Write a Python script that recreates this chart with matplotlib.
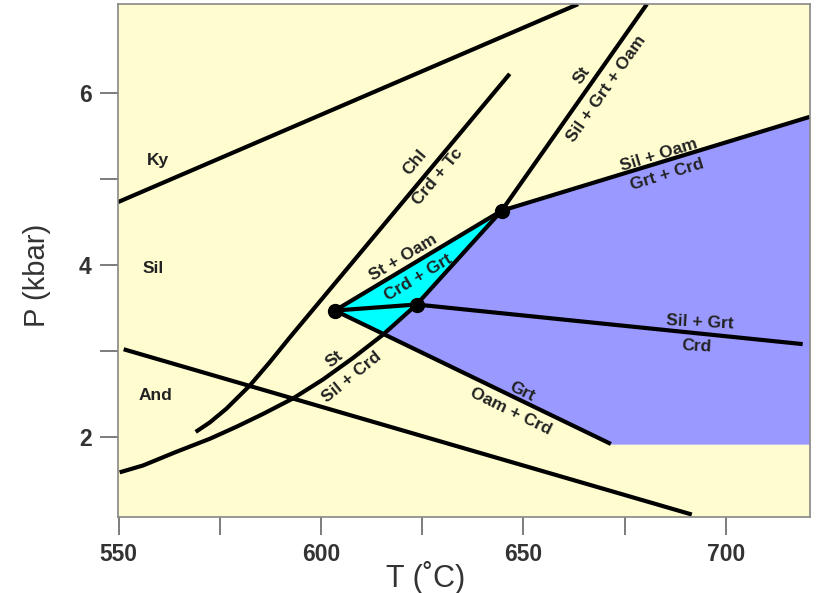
import numpy as np
import matplotlib.pyplot as plt

plt.rcParams['font.family'] = ['Liberation Sans', 'DejaVu Sans']

# reaction curves, T in C, P in kbar
ky_sil_T = [549.8, 663.5]
ky_sil_P = [4.73, 7.03]
and_sil_T = [551.2, 691.6]
and_sil_P = [3.02, 1.10]
chl_T = [569.0, 572.5, 576.6, 582.4, 587.3, 592.3, 646.6]
chl_P = [2.06, 2.17, 2.33, 2.60, 2.87, 3.16, 6.22]
st_crd_T = [550.2, 556.0, 564.3, 572.5, 579.1, 585.7, 593.1, 600.5, 607.9, 615.3, 623.6, 644.6]
st_crd_P = [1.59, 1.67, 1.83, 1.98, 2.12, 2.27, 2.45, 2.67, 2.92, 3.19, 3.54, 4.63]
st_grt_T = [644.6, 680.5]
st_grt_P = [4.63, 7.03]
sil_oam_T = [644.6, 720.7]
sil_oam_P = [4.63, 5.72]
st_oam_T = [603.4, 644.6]
st_oam_P = [3.47, 4.63]
sil_grt_T = [603.4, 623.6, 719.0]
sil_grt_P = [3.47, 3.54, 3.08]
grt_T = [603.4, 671.6]
grt_P = [3.47, 1.92]
blue_floor_P = 1.92
inv_T = [603.4, 623.6, 644.6]
inv_P = [3.47, 3.54, 4.63]

fig = plt.figure(figsize=(8.16, 5.93), dpi=100)
ax = fig.add_axes([0.1446, 0.128, 0.848, 0.865])
ax.set_facecolor('#fffdd0')
ax.set_xlim(549.8, 720.8)
ax.set_ylim(1.07, 7.03)

# cyan triangle (St+Oam / Crd+Grt field)
cx = [st_oam_T[0], st_oam_T[1], st_crd_T[10], st_crd_T[9]]
cy = [st_oam_P[0], st_oam_P[1], st_crd_P[10], st_crd_P[9]]
ax.fill(cx, cy, color='#00ffff', zorder=1)

# blue field
bx = st_crd_T[9:] + [sil_oam_T[1], sil_oam_T[1], grt_T[1]]
by = st_crd_P[9:] + [sil_oam_P[1], blue_floor_P, blue_floor_P]
ax.fill(bx, by, color='#9999ff', zorder=1)

lines = [(ky_sil_T, ky_sil_P), (and_sil_T, and_sil_P), (chl_T, chl_P),
         (st_crd_T, st_crd_P), (st_grt_T, st_grt_P), (sil_oam_T, sil_oam_P),
         (st_oam_T, st_oam_P), (sil_grt_T, sil_grt_P), (grt_T, grt_P)]
for lx, ly in lines:
    ax.plot(lx, ly, color='black', lw=3, solid_capstyle='butt',
            solid_joinstyle='round', zorder=2)
ax.plot(inv_T, inv_P, 'o', color='black', ms=10, zorder=3)

lab = dict(fontsize=12.5, fontweight='bold', color='#222222', ha='center', va='center', zorder=4)
ax.text(559.6, 5.21, 'Ky', **lab)
ax.text(558.4, 3.96, 'Sil', **lab)
ax.text(559.1, 2.48, 'And', **lab)
ax.text(623.2, 5.19, 'Chl', rotation=50, **lab)
ax.text(628.8, 5.02, 'Crd + Tc', rotation=50, **lab)
ax.text(620.2, 4.08, 'St + Oam', rotation=31, **lab)
ax.text(623.9, 3.85, 'Crd + Grt', rotation=31, **lab)
ax.text(603.4, 2.91, 'St', rotation=39, **lab)
ax.text(607.6, 2.70, 'Sil + Crd', rotation=39, **lab)
ax.text(664.4, 6.20, 'St', rotation=55, **lab)
ax.text(670.6, 6.05, 'Sil + Grt + Oam', rotation=55, **lab)
ax.text(683.4, 5.28, 'Sil + Oam', rotation=17, **lab)
ax.text(685.4, 5.05, 'Grt + Crd', rotation=17, **lab)
ax.text(693.7, 3.33, 'Sil + Grt', rotation=-3, **lab)
ax.text(692.8, 3.06, 'Crd', rotation=-3, **lab)
ax.text(649.7, 2.53, 'Grt', rotation=-26, **lab)
ax.text(646.9, 2.30, 'Oam + Crd', rotation=-26, **lab)

ax.set_xticks([550, 600, 650, 700])
ax.set_xticks([575, 625, 675], minor=True)
ax.set_yticks([2, 4, 6])
ax.set_yticks([3, 5], minor=True)
ax.tick_params(which='both', length=13, width=1.2, color='#666666',
               labelsize=16.5, labelcolor='#333333', pad=6)
for t in ax.get_xticklabels() + ax.get_yticklabels():
    t.set_fontweight('bold')
for s in ax.spines.values():
    s.set_color('#888888')
    s.set_linewidth(1.2)

fig.text(0.521, 0.027, 'T (˚C)', fontsize=22, color='#333333', ha='center', va='center')
fig.text(0.045, 0.536, 'P (kbar)', fontsize=21, color='#333333', ha='center', va='center',
         rotation=90)

fig.savefig('out.png', dpi=100)
